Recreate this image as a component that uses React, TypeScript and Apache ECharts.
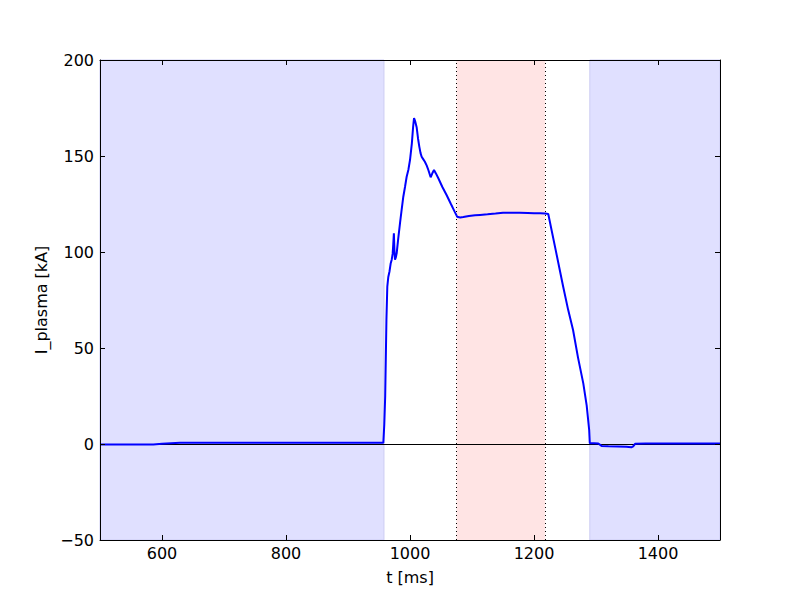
import React, { useEffect, useRef } from "react";
import * as echarts from "echarts";

const tMs = [500, 520, 550, 586, 600, 629, 700, 800, 900, 957, 958.5, 960, 962, 963.4, 965, 967, 968.8, 970.5, 972, 973, 974, 975, 975.8, 977, 978.5, 981, 983.9, 986.5, 989.2, 992, 994.6, 997.5, 1000, 1003, 1005, 1006.5, 1008, 1010.7, 1013, 1015, 1017, 1018.8, 1021, 1024, 1027, 1029.6, 1033.3, 1036, 1038.7, 1042, 1045.7, 1052, 1059, 1066, 1072, 1076, 1081, 1086, 1095, 1105, 1113, 1125, 1138, 1150, 1163, 1177, 1190, 1200, 1210, 1218, 1223, 1235, 1247, 1255, 1263, 1271, 1279.5, 1285, 1289, 1290, 1297, 1303.7, 1309, 1320, 1335, 1349, 1357, 1360, 1363, 1380, 1420, 1460, 1500];
const iPlasma = [-0.2, -0.3, -0.3, -0.2, 0.1, 0.6, 0.6, 0.6, 0.6, 0.6, 10, 25, 65, 82, 87, 90, 94, 96, 99, 104, 109.7, 100, 96, 97, 99.3, 107, 115, 122, 128.8, 134, 139.2, 143, 147.9, 156.6, 165, 169.8, 168.5, 165, 159, 154.9, 151.5, 149.6, 148.5, 147, 145, 142.7, 138.9, 141, 142.7, 140.8, 138.4, 134, 129.7, 125, 121, 118.4, 118, 118.2, 118.8, 119.1, 119.3, 119.6, 120, 120.4, 120.5, 120.4, 120.3, 120.2, 120.2, 120.1, 119.8, 101, 82, 70, 59.4, 45, 31.6, 20, 7.3, 0.4, 0.4, 0.3, -1, -1.2, -1.3, -1.4, -1.7, -1.2, 0.1, 0.3, 0.3, 0.3, 0.3];

const xTicks = [600, 800, 1000, 1200, 1400];
const blueSpans = [[500, 958], [1290, 1500]];
const redSpan = [1075, 1218];
const dottedLines = [1075, 1218];

const FONT = "DejaVu Sans";
const FS = 16;

export default function App() {
  const ref = useRef<HTMLDivElement>(null);
  useEffect(() => {
    const chart = echarts.init(ref.current!, null, { renderer: "svg" });
    const minus = (v: number) => String(v).replace("-", "\u2212");
    const common = {
      type: "value" as const,
      z: 10,
      axisLine: { show: true, onZero: false, lineStyle: { color: "#000", width: 1 } },
      splitLine: { show: false },
    };
    chart.setOption({
      animation: false,
      backgroundColor: "#fff",
      grid: { left: 100, right: 80, top: 60, bottom: 60, containLabel: false },
      xAxis: [
        {
          ...common,
          min: 500,
          max: 1500,
          position: "bottom",
          name: "t [ms]",
          nameLocation: "middle",
          nameGap: 29,
          nameTextStyle: { color: "#000", fontFamily: FONT, fontSize: FS },
          axisTick: { show: true, inside: true, length: 5, customValues: xTicks, lineStyle: { color: "#000" } },
          axisLabel: { show: true, customValues: xTicks, color: "#000", fontFamily: FONT, fontSize: FS, margin: 5, formatter: minus },
        },
        {
          ...common,
          min: 500,
          max: 1500,
          position: "top",
          axisTick: { show: true, inside: true, length: 5, customValues: xTicks, lineStyle: { color: "#000" } },
          axisLabel: { show: false },
        },
      ],
      yAxis: [
        {
          ...common,
          min: -50,
          max: 200,
          interval: 50,
          position: "left",
          name: "I_plasma [kA]",
          nameLocation: "middle",
          nameGap: 45,
          nameTextStyle: { color: "#000", fontFamily: FONT, fontSize: FS },
          axisTick: { show: true, inside: true, length: 5, lineStyle: { color: "#000" } },
          axisLabel: { show: true, color: "#000", fontFamily: FONT, fontSize: FS, margin: 6, formatter: minus },
        },
        {
          ...common,
          min: -50,
          max: 200,
          interval: 50,
          position: "right",
          axisTick: { show: true, inside: true, length: 5, lineStyle: { color: "#000" } },
          axisLabel: { show: false },
        },
      ],
      series: [
        {
          type: "line",
          xAxisIndex: 0,
          yAxisIndex: 0,
          data: [],
          silent: true,
          markArea: {
            silent: true,
            data: [
              ...blueSpans.map((s) => [
                { xAxis: s[0], itemStyle: { color: "#e0e0ff", borderColor: "#cdcdf3", borderWidth: 1 } },
                { xAxis: s[1] },
              ]),
              [
                { xAxis: redSpan[0], itemStyle: { color: "#ffe4e4", borderWidth: 0 } },
                { xAxis: redSpan[1] },
              ],
            ],
          },
          markLine: {
            silent: true,
            symbol: "none",
            label: { show: false },
            data: [
              { yAxis: 0, lineStyle: { color: "#000", type: "solid", width: 1 } },
              ...dottedLines.map((v) => ({ xAxis: v, lineStyle: { color: "#000", type: [1, 3], width: 1 } })),
            ],
          },
        },
        {
          type: "line",
          xAxisIndex: 0,
          yAxisIndex: 0,
          data: tMs.map((t, i) => [t, iPlasma[i]]),
          showSymbol: false,
          symbol: "none",
          lineStyle: { color: "#0000ff", width: 2 },
          z: 5,
        },
      ],
    });
    return () => chart.dispose();
  }, []);
  return <div ref={ref} style={{ width: 800, height: 600, margin: -8 }} />;
}
